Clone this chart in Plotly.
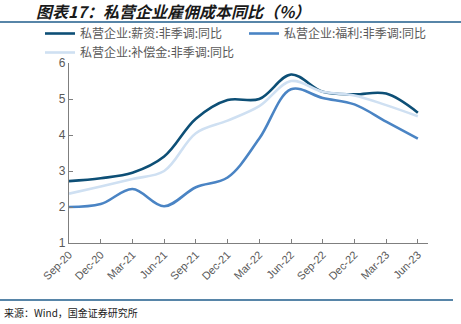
import plotly.graph_objects as go

quarters = ["Sep-20", "Dec-20", "Mar-21", "Jun-21", "Sep-21", "Dec-21",
            "Mar-22", "Jun-22", "Sep-22", "Dec-22", "Mar-23", "Jun-23"]
salary = [2.72, 2.80, 2.95, 3.40, 4.45, 4.97, 5.00, 5.68, 5.20, 5.13, 5.15, 4.62]
welfare = [2.00, 2.08, 2.50, 2.02, 2.55, 2.82, 3.90, 5.27, 5.03, 4.85, 4.37, 3.90]
comp = [2.37, 2.57, 2.78, 3.00, 4.05, 4.40, 4.80, 5.50, 5.20, 5.10, 4.83, 4.52]

names = ["私营企业:薪资:非季调:同比", "私营企业:福利:非季调:同比", "私营企业:补偿金:非季调:同比"]
colors = ["#0d4f76", "#4a84c4", "#cfe0f2"]

W, H = 461, 324
L, R, T, B = 69, 33, 63, 81
PW, PH = W - L - R, H - T - B
grey = "#595959"
font_cjk = "Noto Sans CJK SC"


def px_x(x):
    return (x - L) / PW


def px_y(y):
    return (H - B - y) / PH


fig = go.Figure()
for n, ys, c in zip(names, [salary, welfare, comp], colors):
    fig.add_trace(go.Scatter(x=quarters, y=ys, name=n, mode="lines",
                             line=dict(color=c, width=2.6, shape="spline", smoothing=1.0)))

fig.update_layout(
    width=W, height=H,
    margin=dict(l=L, r=R, t=T, b=B, autoexpand=False),
    plot_bgcolor="white", paper_bgcolor="white",
    font=dict(family=font_cjk, color=grey, size=12),
    showlegend=True,
    legend=dict(orientation="h", x=px_x(40), y=px_y(19), xanchor="left", yanchor="top",
                entrywidth=159, entrywidthmode="pixels",
                font=dict(size=12, color=grey, family=font_cjk),
                tracegroupgap=0, itemwidth=30, bgcolor="rgba(0,0,0,0)"),
    xaxis=dict(type="category", range=[0, 11.32], showgrid=False, zeroline=False,
               showline=True, linecolor="#7f7f7f", linewidth=1.2,
               ticks="inside", ticklen=4, tickcolor="#7f7f7f",
               tickangle=-45, tickfont=dict(size=11, color=grey, family="Arial"),
               fixedrange=True),
    yaxis=dict(range=[1, 6], dtick=1, showgrid=False, zeroline=False,
               showline=True, linecolor="#7f7f7f", linewidth=1.2,
               ticks="inside", ticklen=4, tickcolor="#7f7f7f",
               tickfont=dict(size=12, color=grey, family="Arial"),
               fixedrange=True),
    shapes=[
        dict(type="line", xref="paper", yref="paper",
             x0=px_x(0), x1=px_x(W), y0=px_y(22), y1=px_y(22),
             line=dict(color="#1f5c8b", width=1.5)),
        dict(type="line", xref="paper", yref="paper",
             x0=px_x(0), x1=px_x(453), y0=px_y(300), y1=px_y(300),
             line=dict(color="#1f5c8b", width=1.5)),
    ],
    annotations=[
        dict(text="<b><i>图表17：私营企业雇佣成本同比（%）</i></b>", xref="paper", yref="paper",
             x=px_x(34), y=px_y(11), xanchor="left", yanchor="middle", showarrow=False,
             font=dict(size=16, color="#1a1a1a", family=font_cjk)),
        dict(text="来源：Wind，国金证券研究所", xref="paper", yref="paper",
             x=px_x(2), y=px_y(312), xanchor="left", yanchor="middle", showarrow=False,
             font=dict(size=10, color="#1a1a1a", family=font_cjk)),
    ],
)

fig.write_html("out.html")
